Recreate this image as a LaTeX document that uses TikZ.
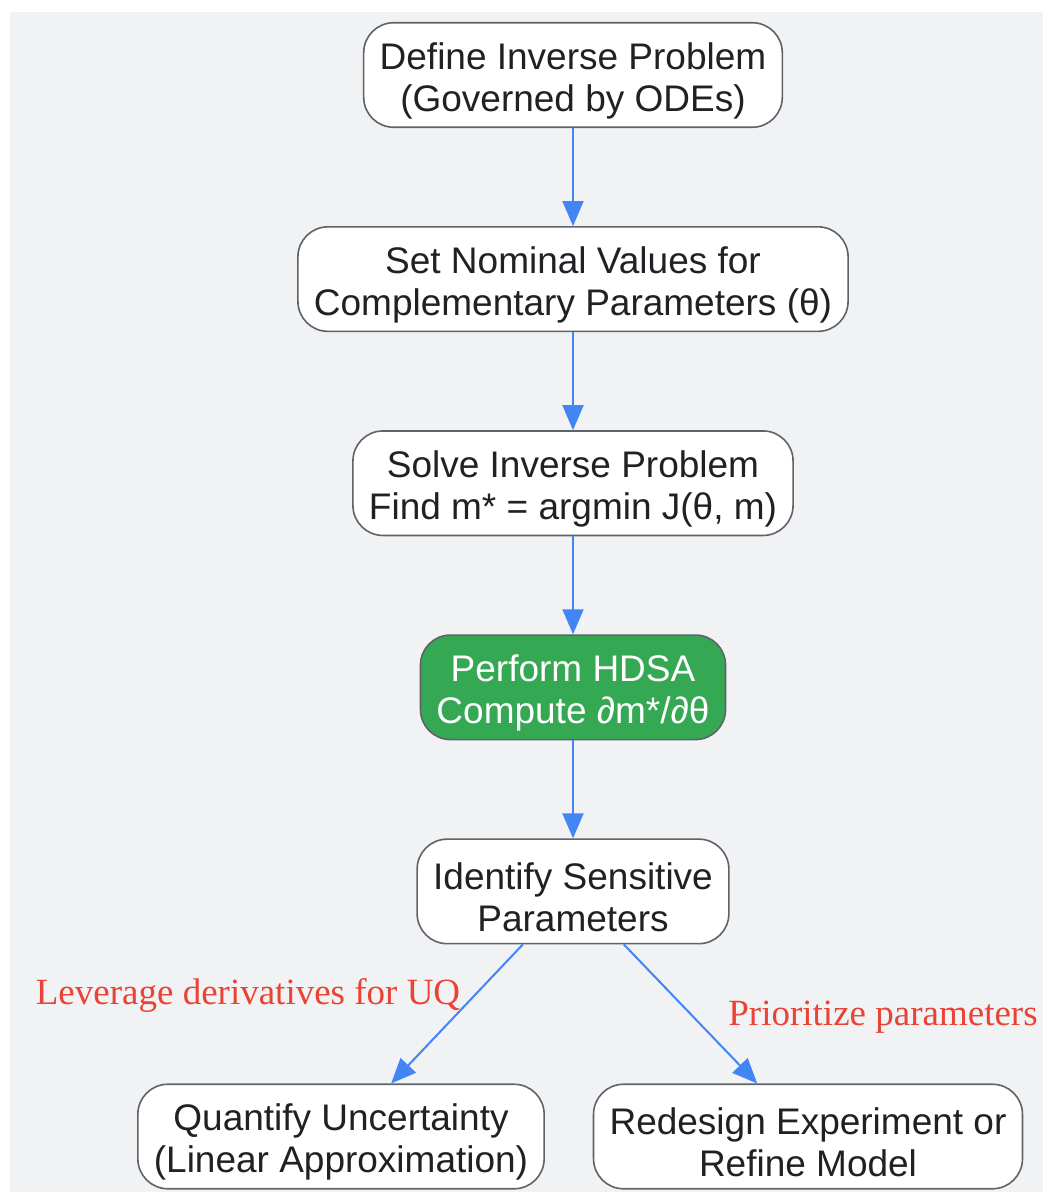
\documentclass[tikz,border=0pt]{standalone}
\usepackage{fontspec}
\setmainfont{Liberation Sans}
\newfontfamily\labelfont{Liberation Serif}
\usetikzlibrary{positioning,arrows.meta}

\definecolor{bggray}{HTML}{F1F2F4}
\definecolor{edgegray}{HTML}{5F6368}
\definecolor{txtdark}{HTML}{202124}
\definecolor{arrowblue}{HTML}{4285F4}
\definecolor{stepgreen}{HTML}{34A853}
\definecolor{lblred}{HTML}{EA4335}

% strut that pushes the first line down a little
\newcommand{\toplift}{\rule{0pt}{38pt}}

\begin{document}
\begin{tikzpicture}[x=1pt, y=-1pt, node distance={98pt},
    box/.style={draw=edgegray, line width=1.6pt, fill=white, rounded corners=30pt,
      align=center, text=txtdark, minimum height=104.5pt, inner xsep=16pt,
      font=\fontsize{37}{42}\selectfont},
    hot/.style={box, fill=stepgreen, text=white},
    link/.style={draw=arrowblue, line width=2pt, -{Triangle[length=25pt,width=21pt]}},
    lbl/.style={text=lblred, font=\labelfont\fontsize{37}{40}\selectfont}]
    \useasboundingbox (0,0) rectangle (1043,1193);
    \fill[bggray] (10,12) rectangle (1043,1192);

    \node[box] (define) at (573,75) {\toplift Define Inverse Problem\\(Governed by ODEs)};
    \node[box] (nominal) [below=of define] {\toplift Set Nominal Values for\\Complementary Parameters (θ)};
    \node[box] (solve) [below=of nominal] {\toplift Solve Inverse Problem\\Find m* = argmin J(θ, m)};
    \node[hot] (hdsa) [below=of solve] {\toplift Perform HDSA\\Compute ∂m*/∂θ};
    \node[box] (ident) [below=of hdsa] {\toplift Identify Sensitive\\Parameters};
    \node[box] (quant) at (341,1136.5) {\toplift Quantify Uncertainty\\(Linear Approximation)};
    \node[box] (redesign) at (808,1136.5) {\toplift Redesign Experiment or\\Refine Model};

    \node[lbl] (uqlbl) at (248,995) {Leverage derivatives for UQ};
    \node[lbl] (prilbl) at (883,1017) {Prioritize parameters};

    \draw[link] (define) -- (nominal);
    \draw[link] (nominal) -- (solve);
    \draw[link] (solve) -- (hdsa);
    \draw[link] (hdsa) -- (ident);
    \draw[link] (ident) -- (quant);
    \draw[link] (ident) -- (redesign);
\end{tikzpicture}
\end{document}
